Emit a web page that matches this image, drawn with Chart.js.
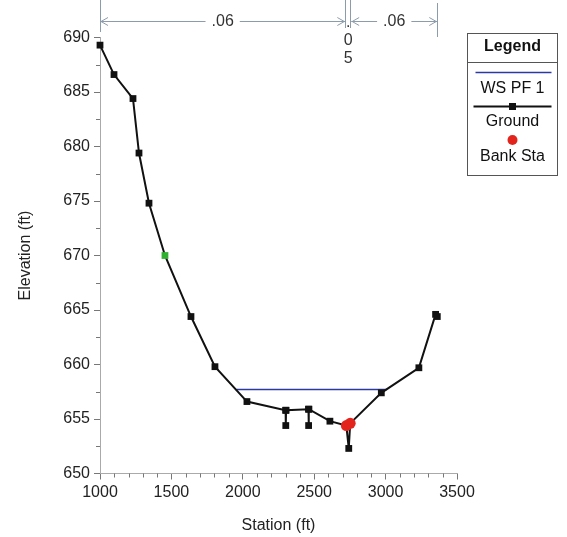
<!DOCTYPE html>
<html>
<head>
<meta charset="utf-8">
<script src="https://cdn.jsdelivr.net/npm/chart.js@4.4.1/dist/chart.umd.min.js"></script>
<style>
    body { margin: 0; background: #ffffff; }
    #chart { display: block; }
</style>
</head>
<body>
<canvas id="chart" width="567" height="537"></canvas>
<script>
// cross section data
var groundStation = [1000, 1098, 1231, 1273, 1343, 1455, 1637, 1805, 2029, 2300, 2301, 2303, 2460, 2461, 2463, 2610, 2725, 2742, 2752, 2970, 3233, 3350, 3362];
var groundElev = [689.3, 686.6, 684.4, 679.4, 674.8, 670.0, 664.4, 659.8, 656.6, 655.8, 654.4, 655.8, 655.9, 654.4, 655.9, 654.8, 654.4, 652.3, 654.6, 657.4, 659.7, 664.6, 664.4];
var wsStation = [1955, 3010];
var wsElev = [657.7, 657.7];
var bankStation = [2725, 2752];
var bankElev = [654.4, 654.6];
var manningN = ['.06', '.05', '.06'];
var legendLabels = ['WS PF 1', 'Ground', 'Bank Sta'];
var xTicks = [1000, 3500, 500];
var yTicks = [650, 690, 5];

var fontFamily = "'Liberation Sans', Arial, sans-serif";
var dimColor = '#8d9cab';

function toPoints(xs, ys) {
    var pts = [];
    for (var i = 0; i < xs.length; i++) {
        pts.push({ x: xs[i], y: ys[i] });
    }
    return pts;
}

// plain numbers on the axes, no thousands separator
function plainLabel(value) {
    return String(value);
}

// marker at 1455 is drawn green
var groundColors = groundStation.map(function (s) { return s == 1455 ? '#2fb02f' : '#111111'; });

// small ticks between the labelled ones
var minorTicks = {
    id: 'minorTicks',
    afterDraw: function (chart) {
        var ctx = chart.ctx;
        var xs = chart.scales.x, ys = chart.scales.y;
        ctx.save();
        ctx.strokeStyle = '#777';
        ctx.lineWidth = 1;
        ctx.beginPath();
        for (var v = xTicks[0]; v <= xTicks[1]; v += 100) {
            if (v % xTicks[2] == 0) continue;
            var px = Math.round(xs.getPixelForValue(v)) + 0.5;
            ctx.moveTo(px, ys.bottom);
            ctx.lineTo(px, ys.bottom + 4);
        }
        for (var w = yTicks[0]; w <= yTicks[1]; w += 2.5) {
            if (w % yTicks[2] == 0) continue;
            var py = Math.round(ys.getPixelForValue(w)) + 0.5;
            ctx.moveTo(xs.left - 4, py);
            ctx.lineTo(xs.left, py);
        }
        ctx.stroke();
        ctx.restore();
    }
};

function arrowHead(ctx, x, y, dir) {
    ctx.beginPath();
    ctx.moveTo(x + dir * 7, y - 4);
    ctx.lineTo(x, y);
    ctx.lineTo(x + dir * 7, y + 4);
    ctx.stroke();
}

// manning's n extents above the plot
var nValues = {
    id: 'nValues',
    afterDraw: function (chart) {
        var ctx = chart.ctx;
        var xs = chart.scales.x;
        var x0 = xs.getPixelForValue(groundStation[0]);
        var x1 = xs.getPixelForValue(bankStation[0]);
        var x2 = xs.getPixelForValue(bankStation[1]);
        var x3 = xs.getPixelForValue(groundStation[groundStation.length - 1]);
        var ay = 21.5;
        ctx.save();
        ctx.strokeStyle = dimColor;
        ctx.lineWidth = 1;
        ctx.beginPath();
        ctx.moveTo(Math.round(x0) + 0.5, 0); ctx.lineTo(Math.round(x0) + 0.5, 32);
        ctx.moveTo(Math.round(x1) - 0.5, 0); ctx.lineTo(Math.round(x1) - 0.5, 28);
        ctx.moveTo(Math.round(x2) + 0.5, 0); ctx.lineTo(Math.round(x2) + 0.5, 28);
        ctx.moveTo(Math.round(x3) + 0.5, 3); ctx.lineTo(Math.round(x3) + 0.5, 37);
        ctx.stroke();

        ctx.font = '16px ' + fontFamily;
        ctx.textAlign = 'center';
        ctx.textBaseline = 'middle';
        var segs = [[x0, x1 - 1, manningN[0]], [x2 + 1, x3, manningN[2]]];
        segs.forEach(function (s) {
            var mid = (s[0] + s[1]) / 2;
            var half = ctx.measureText(s[2]).width / 2 + 6;
            ctx.strokeStyle = dimColor;
            ctx.beginPath();
            ctx.moveTo(s[0], ay); ctx.lineTo(mid - half, ay);
            ctx.moveTo(mid + half, ay); ctx.lineTo(s[1], ay);
            ctx.stroke();
            arrowHead(ctx, s[0] + 1, ay, 1);
            arrowHead(ctx, s[1] - 1, ay, -1);
            ctx.fillStyle = '#333';
            ctx.fillText(s[2], mid, ay);
        });

        // channel value is too narrow, so it is stacked
        var cx = (x1 + x2) / 2;
        var chars = manningN[1].split('');
        ctx.fillStyle = '#333';
        for (var i = 0; i < chars.length; i++) {
            ctx.fillText(chars[i], cx, 23 + i * 18);
        }
        ctx.restore();
    }
};

// boxed legend at the right
var boxLegend = {
    id: 'boxLegend',
    afterDraw: function (chart) {
        var ctx = chart.ctx;
        var left = 467.5, top = 33.5, w = 90, h = 142;
        var cx = left + w / 2;
        ctx.save();
        ctx.strokeStyle = '#555';
        ctx.lineWidth = 1;
        ctx.strokeRect(left, top, w, h);
        ctx.beginPath();
        ctx.moveTo(left, 62.5); ctx.lineTo(left + w, 62.5);
        ctx.stroke();

        ctx.textAlign = 'center';
        ctx.textBaseline = 'middle';
        ctx.fillStyle = '#111';
        ctx.font = 'bold 16px ' + fontFamily;
        ctx.fillText('Legend', cx, 47);

        ctx.font = '16px ' + fontFamily;
        ctx.strokeStyle = '#2c3aa0';
        ctx.lineWidth = 1.5;
        ctx.beginPath();
        ctx.moveTo(left + 8, 72.5); ctx.lineTo(left + w - 6, 72.5);
        ctx.stroke();
        ctx.fillText(legendLabels[0], cx, 89);

        ctx.strokeStyle = '#111';
        ctx.lineWidth = 2;
        ctx.beginPath();
        ctx.moveTo(left + 6, 106.5); ctx.lineTo(left + w - 6, 106.5);
        ctx.stroke();
        ctx.fillRect(cx - 3.5, 103, 7, 7);
        ctx.fillText(legendLabels[1], cx, 122);

        ctx.fillStyle = '#e3241c';
        ctx.beginPath();
        ctx.arc(cx, 140, 5, 0, Math.PI * 2);
        ctx.fill();
        ctx.fillStyle = '#111';
        ctx.fillText(legendLabels[2], cx, 157);
        ctx.restore();
    }
};

var config = {
    type: 'scatter',
    data: {
        datasets: [
            {
                label: legendLabels[0],
                data: toPoints(wsStation, wsElev),
                showLine: true,
                borderColor: '#2c3aa0',
                borderWidth: 1.5,
                pointRadius: 0,
                clip: false,
                order: 2
            },
            {
                label: legendLabels[1],
                data: toPoints(groundStation, groundElev),
                showLine: true,
                borderColor: '#111111',
                borderWidth: 2,
                pointStyle: 'rect',
                pointRadius: 4.8,
                pointBackgroundColor: groundColors,
                pointBorderColor: groundColors,
                pointBorderWidth: 0,
                clip: false,
                order: 1
            },
            {
                label: legendLabels[2],
                data: toPoints(bankStation, bankElev),
                showLine: false,
                pointStyle: 'circle',
                pointRadius: 5.5,
                pointBackgroundColor: '#e3241c',
                pointBorderColor: '#e3241c',
                pointBorderWidth: 0,
                clip: false,
                order: 0
            }
        ]
    },
    options: {
        responsive: false,
        animation: false,
        devicePixelRatio: 1,
        layout: { padding: { left: 0, top: 37.5, right: 110, bottom: 0 } },
        plugins: {
            legend: { display: false },
            tooltip: { enabled: false }
        },
        scales: {
            x: {
                type: 'linear',
                min: xTicks[0],
                max: xTicks[1],
                afterFit: function (scale) { scale.height = 63.5; },
                ticks: {
                    stepSize: xTicks[2],
                    color: '#222',
                    padding: 3,
                    maxRotation: 0,
                    font: { family: fontFamily, size: 16 },
                    callback: plainLabel
                },
                grid: {
                    drawOnChartArea: false,
                    tickLength: 6,
                    color: '#777'
                },
                border: { color: '#aaa' },
                title: {
                    display: true,
                    text: 'Station (ft)',
                    color: '#222',
                    font: { family: fontFamily, size: 16 },
                    padding: { top: 0, bottom: 2 }
                }
            },
            y: {
                type: 'linear',
                min: yTicks[0],
                max: yTicks[1],
                afterFit: function (scale) { scale.width = 100; },
                ticks: {
                    stepSize: yTicks[2],
                    color: '#222',
                    padding: 4,
                    font: { family: fontFamily, size: 16 },
                    callback: plainLabel
                },
                grid: {
                    drawOnChartArea: false,
                    tickLength: 6,
                    color: '#777'
                },
                border: { color: '#aaa' },
                title: {
                    display: true,
                    text: 'Elevation (ft)',
                    color: '#222',
                    font: { family: fontFamily, size: 16 },
                    padding: { top: 16, bottom: 0 }
                }
            }
        }
    },
    plugins: [minorTicks, nValues, boxLegend]
};

var myChart = new Chart(document.getElementById('chart'), config);
</script>
</body>
</html>
